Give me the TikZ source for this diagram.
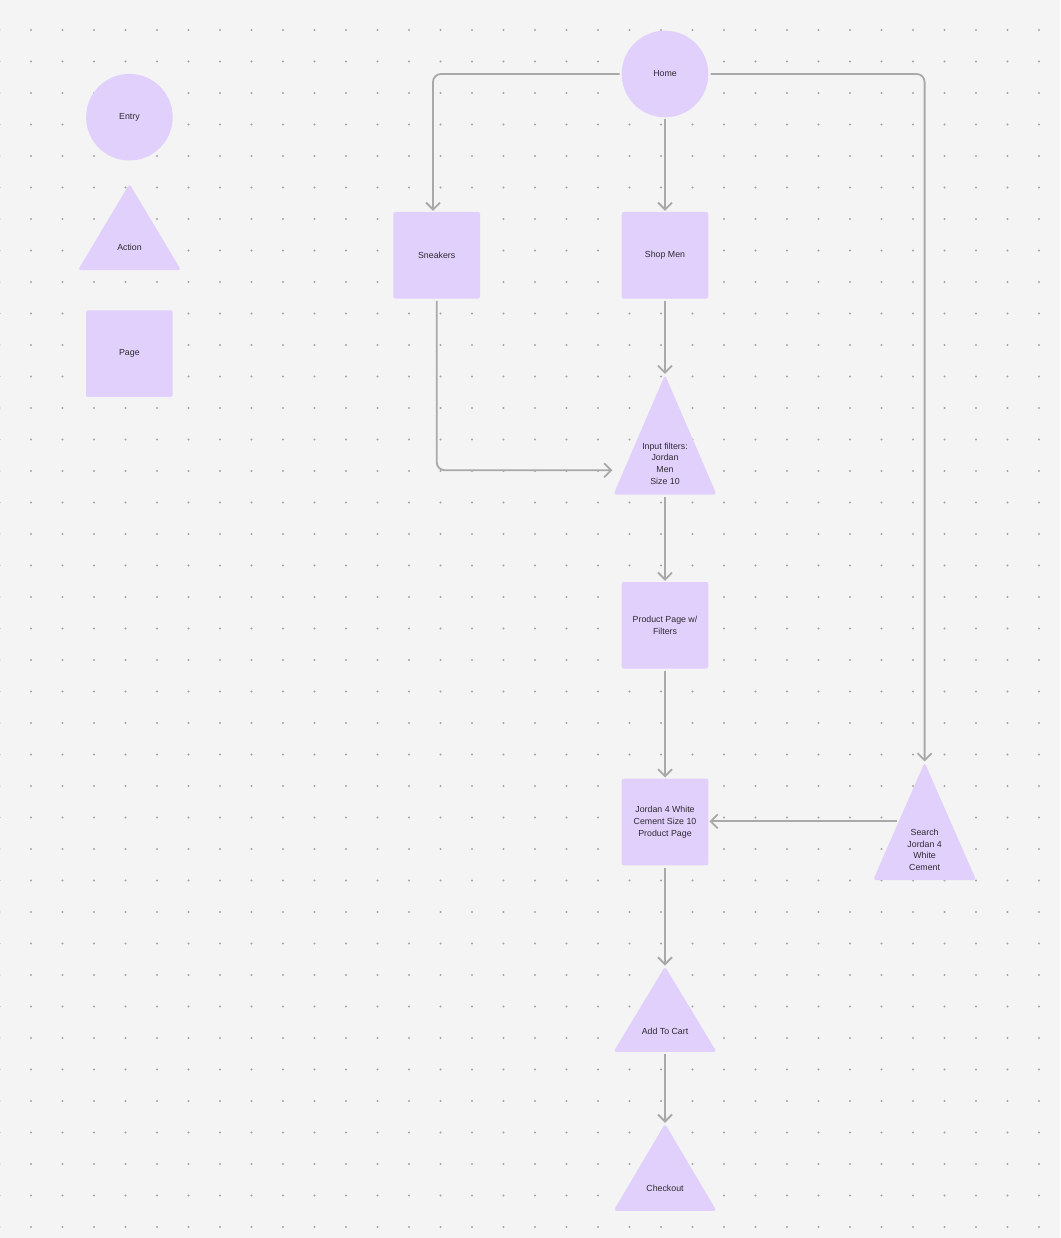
\documentclass[tikz,border=0pt]{standalone}
\usepackage{fontspec}
\setmainfont{Liberation Sans}
\usetikzlibrary{arrows.meta,calc}
\definecolor{bgc}{HTML}{F4F4F4}
\definecolor{lav}{HTML}{E1D0FB}
\definecolor{edgec}{HTML}{A9A9A9}
\definecolor{dotc}{HTML}{A6A6A6}
\definecolor{txtc}{HTML}{2E2A33}
\newcommand\trifill[1]{\fill[lav, rounded corners=3pt] (#1.north) -- (#1.south east) -- (#1.south west) -- cycle;}
\begin{document}
\begin{tikzpicture}[x=1pt,y=-1pt,
 lbl/.style={font=\fontsize{8.8}{11.8}\selectfont, text=txtc, align=center},
 entrynode/.style={circle, fill=lav, minimum size=86.6pt, inner sep=0pt, lbl},
 pagenode/.style={rectangle, rounded corners=2pt, fill=lav, minimum size=86.6pt, inner sep=0pt, lbl},
 trinode/.style={rectangle, minimum width=102.7pt, minimum height=#1, inner sep=0pt},
 flow/.style={draw=edgec, line width=1.8pt, rounded corners=8pt, -{Straight Barb[length=7pt,width=14pt]}, shorten <=2pt, shorten >=1pt}
]
% background
\fill[bgc] (0,0) rectangle (1060,1238);
\useasboundingbox (0,0) rectangle (1060,1238);
\foreach \i in {0,...,34} {
  \foreach \j in {0,...,39} {
    \fill[dotc] ({31.5*\i-0.5},{31.5*\j-1.5}) circle (1.1pt);
  }
}
% legend
\node[entrynode] (entry) at (129.4,117.2) {Entry};
\node[trinode=86pt] (action) at (129.5,227) {};
\trifill{action}
\node[lbl] (action-t) at (129.5,247.6) {Action};
\node[pagenode] (page) at (129.4,353.6) {Page};
% flow nodes
\node[entrynode] (home) at (665,74) {Home};
\node[pagenode] (sneak) at (436.7,255.3) {Sneakers};
\node[pagenode] (shop) at (665,255.3) {Shop Men};
\node[trinode=119.3pt] (filt) at (665,434.7) {};
\trifill{filt}
\node[lbl] (filt-t) at (665,463.7) {Input filters:\\Jordan\\Men\\Size 10};
\node[pagenode] (prod) at (665,625.3) {Product Page w/\\Filters};
\node[pagenode] (jord) at (665,822) {Jordan 4 White\\Cement Size 10\\Product Page};
\node[trinode=117.3pt] (srch) at (924.6,821.3) {};
\trifill{srch}
\node[lbl] (srch-t) at (924.6,849.8) {Search\\Jordan 4\\White\\Cement};
\node[trinode=85pt] (cart) at (665,1009.2) {};
\trifill{cart}
\node[lbl] (cart-t) at (665,1031) {Add To Cart};
\node[trinode=86.7pt] (chk) at (665,1167.3) {};
\trifill{chk}
\node[lbl] (chk-t) at (665,1188.6) {Checkout};
\coordinate (srchL) at ($(srch.north)!0.5!(srch.south west)$);
% connectors
\draw[flow] (home.west) -| ([xshift=-3.7pt]sneak.north);
\draw[flow] (home.south) -- (shop.north);
\draw[flow] (home.east) -| (srch.north);
\draw[flow] (sneak.south) |- ([yshift=24.3pt]filt.south west);
\draw[flow] (shop.south) -- (filt.north);
\draw[flow] (filt.south) -- (prod.north);
\draw[flow] (prod.south) -- (jord.north);
\draw[flow] (srchL) -- (srchL -| jord.east);
\draw[flow] (jord.south) -- (cart.north);
\draw[flow] (cart.south) -- (chk.north);
\end{tikzpicture}
\end{document}
